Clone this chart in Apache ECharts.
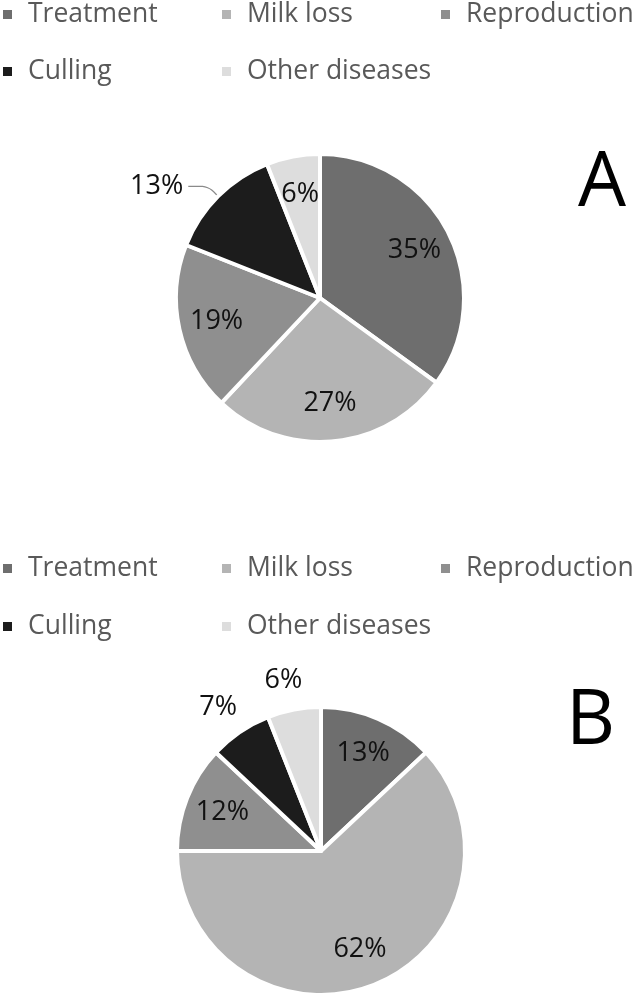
<!DOCTYPE html>
<html>
<head>
<meta charset="utf-8">
<script src="https://cdn.jsdelivr.net/npm/echarts@6/dist/echarts.min.js"></script>
<style>
  html, body { margin: 0; padding: 0; background: #fff; }
  #chart { width: 638px; height: 999px; }
</style>
</head>
<body>
<div id="chart"></div>
<script>
// ---- data ----
const categories = ['Treatment', 'Milk loss', 'Reproduction', 'Culling', 'Other diseases'];
const valuesA = [35, 27, 19, 13, 6];
const valuesB = [13, 62, 12, 7, 6];
const panelLabels = ['A', 'B'];
// which slices carry their label outside the pie
const outsideA = ['Culling'];
const outsideB = ['Culling', 'Other diseases'];

// ---- styles ----
const sliceColors = ['#6e6e6e', '#b4b4b4', '#8f8f8f', '#1c1c1c', '#dddddd'];
const FONT = "'Open Sans', 'Noto Sans', sans-serif";
const labelStyle = { fontFamily: FONT, fontSize: 27, color: '#111111' };

const chart = echarts.init(document.getElementById('chart'), null, { renderer: 'canvas' });

function mainData(values, outside, lineShown) {
  return categories.map((name, i) => {
    const isOut = outside.indexOf(name) >= 0;
    return {
      name: name,
      value: values[i],
      itemStyle: { color: sliceColors[i] },
      label: { show: isOut, position: 'outside' },
      labelLine: isOut && lineShown
        ? { show: true, length: 14, length2: 20, smooth: 0.3, lineStyle: { color: '#8a8a8a', width: 1.2 } }
        : { show: false, length: 30, length2: 0 }
    };
  });
}
function labelData(values, outside) {
  return categories.map((name, i) => ({
    name: name,
    value: values[i],
    label: { show: outside.indexOf(name) < 0 }
  }));
}

const R = 144;
const centerA = [320, 298];
const centerB = [321, 851];

function pieSeries(values, outside, center, lineShown) {
  return [
    {
      type: 'pie',
      center: center,
      radius: [0, R],
      startAngle: 90,
      clockwise: true,
      avoidLabelOverlap: false,
      animation: false,
      silent: true,
      itemStyle: { borderColor: '#ffffff', borderWidth: 4 },
      label: Object.assign({ formatter: '{c}%', distanceToLabelLine: 5 }, labelStyle),
      labelLayout: lineShown ? undefined : function () { return { align: 'center' }; },
      data: mainData(values, outside, lineShown)
    },
    {
      type: 'pie',
      center: center,
      radius: [0, 206],
      startAngle: 90,
      clockwise: true,
      avoidLabelOverlap: false,
      animation: false,
      silent: true,
      itemStyle: { color: 'transparent', borderWidth: 0 },
      label: Object.assign({ position: 'inside', formatter: '{c}%' }, labelStyle),
      labelLine: { show: false },
      data: labelData(values, outside)
    }
  ];
}

// legends: one per item, laid out as two rows of a fixed-pitch grid
const legendX = [3, 222, 441];
const legendRowsTop = [[1, 58], [555, 613]];
const legends = [];
[0, 1].forEach(panel => {
  categories.forEach((name, i) => {
    legends.push({
      data: [name],
      left: legendX[i % 3],
      top: legendRowsTop[panel][Math.floor(i / 3)],
      padding: 0,
      icon: 'rect',
      itemWidth: 9,
      itemHeight: 9,
      itemStyle: { borderWidth: 0 },
      selectedMode: false,
      textStyle: {
        fontFamily: FONT,
        fontSize: 26.5,
        lineHeight: 26,
        color: '#595959',
        padding: [0, 0, 0, 11]
      }
    });
  });
});

const option = {
  backgroundColor: '#ffffff',
  animation: false,
  legend: legends,
  graphic: [
    { type: 'text', left: 578, top: 146, style: { text: panelLabels[0], font: '76px ' + FONT, fill: '#000' } },
    { type: 'text', left: 566, top: 684, style: { text: panelLabels[1], font: '76px ' + FONT, fill: '#000' } }
  ],
  series: [].concat(
    pieSeries(valuesA, outsideA, centerA, true),
    pieSeries(valuesB, outsideB, centerB, false)
  )
};

chart.setOption(option);
</script>
</body>
</html>
